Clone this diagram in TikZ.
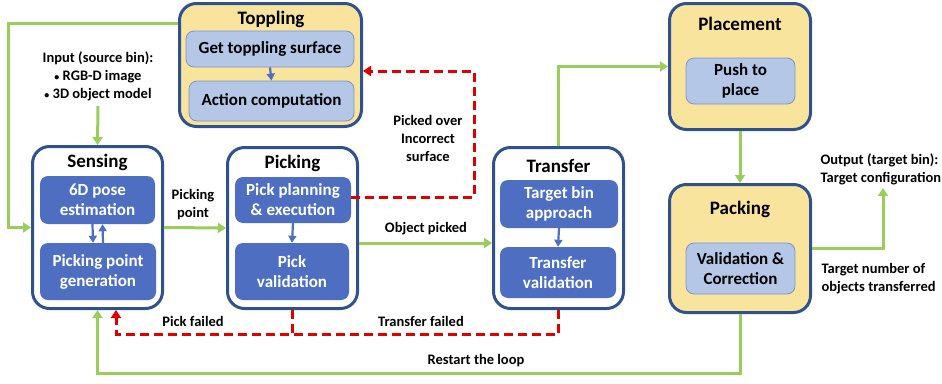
\documentclass[tikz,border=0pt]{standalone}
\usepackage{fontspec}
\setmainfont{Carlito}
\usetikzlibrary{arrows.meta}
\definecolor{bordblue}{HTML}{2F528F}
\definecolor{midblue}{HTML}{4E6FC1}
\definecolor{lightblue}{HTML}{B4C7E7}
\definecolor{lightedge}{HTML}{7F93C6}
\definecolor{phaseyellow}{HTML}{F8E49D}
\definecolor{flowgreen}{HTML}{9ACD5B}
\definecolor{failred}{HTML}{E00000}
\newcommand{\smallbul}{{\fontsize{10}{10}\selectfont\textbullet}\ }
\begin{document}
\begin{tikzpicture}[x=1pt, y=-1pt,
    stage/.style={draw=bordblue, line width=3pt, rounded corners=17pt, fill=white, inner sep=0pt},
    phase/.style={stage, fill=phaseyellow},
    title/.style={font=\fontsize{19}{22}\selectfont\bfseries},
    subbox/.style={fill=midblue, text=white, rounded corners=8pt, align=center, inner sep=0pt,
        font=\fontsize{17}{20}\selectfont\bfseries},
    lightbox/.style={fill=lightblue, draw=lightedge, line width=0.8pt, rounded corners=8pt, align=center,
        inner sep=0pt, font=\fontsize{17}{20}\selectfont\bfseries},
    lbl/.style={align=center, font=\fontsize{14.5}{18}\selectfont\bfseries},
    flow/.style={draw=flowgreen, line width=3pt, -{Triangle[length=8pt,width=10pt]}},
    fail/.style={draw=failred, line width=3pt, dash pattern=on 9pt off 5pt},
    tip/.style={draw=midblue, line width=2.2pt, -{Triangle[length=7pt,width=8pt]}}]
    \useasboundingbox (0,0) rectangle (942,383);

    % outer boxes
    \node[phase, minimum width=182pt, minimum height=123pt] (topple) at (270.5,65) {};
    \node[stage, minimum width=130pt, minimum height=162pt] (sense) at (97.5,227.5) {};
    \node[stage, minimum width=130pt, minimum height=161pt] (pick) at (292.5,228) {};
    \node[stage, minimum width=130pt, minimum height=161pt] (trans) at (558.5,228) {};
    \node[phase, minimum width=141pt, minimum height=126pt] (place) at (740,66.5) {};
    \node[phase, minimum width=141pt, minimum height=128pt] (pack) at (740,248.5) {};

    \node[title] (ttopple) at (271,19) {Toppling};
    \node[title] (tsense) at (97.5,162) {Sensing};
    \node[title] (tpick) at (292.5,163) {Picking};
    \node[title] (ttrans) at (558.5,166) {Transfer};
    \node[title] (tplace) at (740,24) {Placement};
    \node[title] (tpack) at (740,209) {Packing};

    % inner steps
    \node[lightbox, minimum width=168pt, minimum height=36pt] (surf) at (270,49) {Get toppling surface};
    \node[lightbox, minimum width=165pt, minimum height=40pt] (act) at (271.5,101) {Action computation};
    \node[subbox, minimum width=115pt, minimum height=48pt] (pose) at (97.5,200) {6D pose\\estimation};
    \node[subbox, minimum width=116pt, minimum height=57pt] (ppg) at (98,271.5) {Picking point\\generation};
    \node[subbox, minimum width=116pt, minimum height=46pt] (plan) at (293,200) {Pick planning\\\& execution};
    \node[subbox, minimum width=114pt, minimum height=57pt] (pval) at (292,271.5) {Pick\\validation};
    \node[subbox, minimum width=118pt, minimum height=48pt] (appr) at (559,204) {Target bin\\approach};
    \node[subbox, minimum width=116pt, minimum height=51pt] (tval) at (558,272.5) {Transfer\\validation};
    \node[lightbox, minimum width=109pt, minimum height=46pt] (push) at (740.5,81) {Push to\\place};
    \node[lightbox, minimum width=109pt, minimum height=51pt] (vc) at (740.5,268.5) {Validation \&\\Correction};

    \draw[tip] (surf.south) -- (act.north);
    \draw[tip] ([xshift=-5pt]pose.south) -- ([xshift=-5pt]ppg.north);
    \draw[tip] ([xshift=5pt]ppg.north) -- ([xshift=5pt]pose.south);
    \draw[tip] (plan.south) -- (pval.north);
    \draw[tip] (appr.south) -- (tval.north);

    % labels
    \node[lbl] (input) at (98,76) {Input (source bin):\\\smallbul RGB-D image\\\smallbul 3D object model};
    \node[lbl] (lpoint) at (193,205) {Picking\\point};
    \node[lbl] (lobj) at (426,229) {Object picked};
    \node[lbl] (lover) at (428,138) {Picked over\\Incorrect\\surface};
    \node[lbl] (lpf) at (193,321) {Pick failed};
    \node[lbl] (ltf) at (421,321) {Transfer failed};
    \node[lbl] (lloop) at (476,361) {Restart the loop};
    \node[lbl, align=left, anchor=west] (lout) at (817,169.5) {Output (target bin):\\Target configuration};
    \node[lbl, align=left, anchor=west] (lnum) at (818,279) {Target number of\\objects transferred};

    % connectors
    \coordinate (lp) at (8,23);
    \draw[flow] (topple.west |- lp) -- (lp) -- (lp |- sense.west) -- (sense.west);
    \draw[flow] (98,106) -- (sense.north);
    \draw[flow] (sense.east) -- (pick.west);
    \draw[flow] ([yshift=-15pt]pick.east) -- ([yshift=-15pt]trans.west);
    \draw[flow] (trans.north) |- (place.west);
    \draw[flow] (place.south) -- (pack.north);
    \coordinate (outp) at (883,188);
    \draw[flow] (pack.east) -| (outp);
    \coordinate (bot) at (420,373);
    \draw[flow] (pack.south) |- (bot) -| (sense.south);

    \coordinate (rc) at (474,71);
    \draw[fail, -{Triangle[length=8pt,width=10pt]}] ([yshift=3pt]plan.east) -| (rc) -- (topple.east |- rc);
    \coordinate (pf) at (116,334);
    \draw[fail, -{Triangle[length=8pt,width=10pt]}] (pick.south) |- (pf) -- (pf |- sense.south);
    \draw[fail] (trans.south) |- (pick.south |- pf);
\end{tikzpicture}
\end{document}
